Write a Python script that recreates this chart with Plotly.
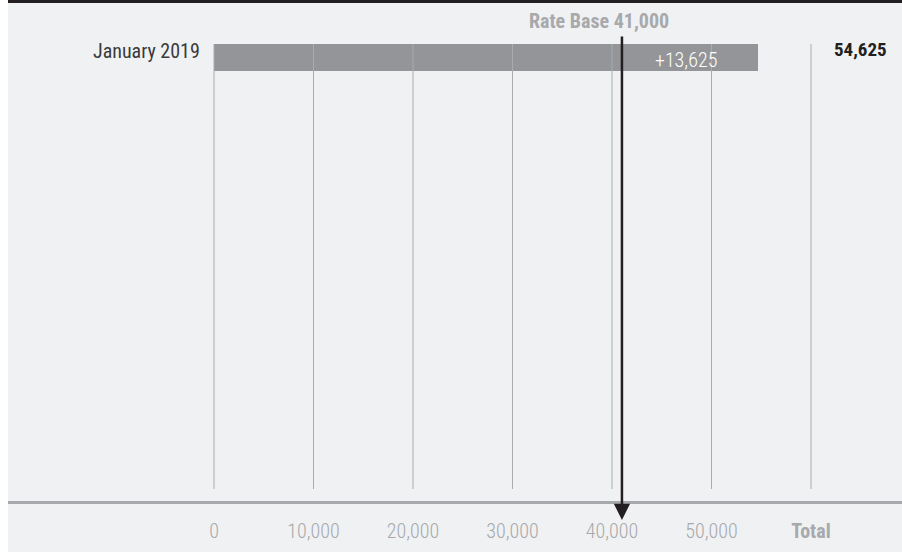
import plotly.graph_objects as go

categories = ["January 2019"]
totals = [54625]
rate_base = 41000
increase = [13625]
tick_vals = [0, 10000, 20000, 30000, 40000, 50000, 60000]
tick_text = ["0", "10,000", "20,000", "30,000", "40,000", "50,000", "<b>Total</b>"]

FONT = "Roboto Condensed"
BG = "#f0f1f3"
GRID = "#a9abae"
BAR = "#939598"

def f(size, color, weight=None):
    d = dict(family=FONT, size=size, color=color)
    if weight:
        d["weight"] = weight
    return d

fig = go.Figure()
fig.add_trace(go.Bar(
    x=totals, y=[0], orientation="h", width=27,
    marker=dict(color=BAR, line=dict(width=0)),
    hoverinfo="skip", showlegend=False,
))

shapes = []
for v in tick_vals:
    shapes.append(dict(type="line", xref="x", yref="y", x0=v, x1=v, y0=-13.5, y1=431.5,
                       line=dict(color=GRID, width=1), layer="above"))
shapes.append(dict(type="rect", xref="paper", yref="paper", x0=0, x1=1, y0=1 - 3 / 501, y1=1.01,
                   fillcolor="#231f20", line=dict(width=0), layer="above"))
shapes.append(dict(type="rect", xref="paper", yref="paper", x0=-8 / 894, x1=0, y0=-0.2, y1=1.01,
                   fillcolor="white", line=dict(width=0), layer="above"))

annotations = [
    dict(x=0, y=-7, xref="x", yref="y", text=categories[0], showarrow=False,
         xanchor="right", yanchor="middle", xshift=-12, font=f(20, "#3a3a3c")),
    dict(x=60000, y=-8, xref="x", yref="y", text="<b>%s</b>" % f"{totals[0]:,}", showarrow=False,
         xanchor="left", yanchor="middle", xshift=21, font=f(19, "#231f20")),
    dict(x=(rate_base + totals[0]) / 2, y=2, xref="x", yref="y", text="+%s" % f"{increase[0]:,}",
         showarrow=False, xanchor="center", yanchor="middle", xshift=-4, font=f(20, "white", 300)),
    dict(x=rate_base, y=-37, xref="x", yref="y", text="<b>Rate Base %s</b>" % f"{rate_base:,}",
         showarrow=False, xanchor="right", yanchor="middle", xshift=49, font=f(20, "#a7a9ac")),
    dict(x=rate_base, y=-19 / 501, xref="x", yref="paper", text="", showarrow=True,
         axref="pixel", ayref="pixel", ax=0, ay=-485,
         arrowhead=2, arrowsize=1.3, arrowwidth=2.5, arrowcolor="#231f20", standoff=0),
]

fig.update_layout(
    width=902, height=552,
    margin=dict(l=8, r=0, t=0, b=51),
    paper_bgcolor=BG, plot_bgcolor=BG,
    shapes=shapes, annotations=annotations,
    xaxis=dict(range=[(8 - 214) / 99.5 * 1e4, (902 - 214) / 99.5 * 1e4],
               tickvals=tick_vals, ticktext=tick_text, showgrid=False, zeroline=False,
               showline=True, linecolor="#a7a9ac", linewidth=3, ticks="",
               ticklabelstandoff=10, tickfont=f(20, "#a7a9ac", 300), fixedrange=True),
    yaxis=dict(range=[443.5, -57.5], showticklabels=False, showgrid=False, zeroline=False,
               showline=False, fixedrange=True),
    bargap=0,
)

fig.write_html("out.html", config={"displayModeBar": False},
               post_script="document.body.style.margin='0';document.body.style.overflow='hidden';")
